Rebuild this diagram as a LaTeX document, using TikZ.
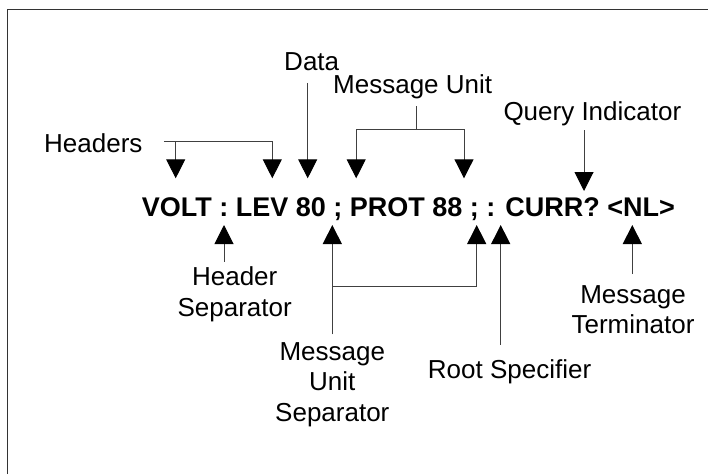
\documentclass[tikz,border=0pt]{standalone}
\usepackage{fontspec}
\setmainfont{Liberation Sans}
\usetikzlibrary{arrows.meta}

\begin{document}
\begin{tikzpicture}[x=1pt,y=-1pt,
	lbl/.style={font=\fontsize{26}{31.5}\selectfont, inner sep=0pt, align=center},
	cmd/.style={font=\fontsize{27}{30}\selectfont\bfseries, inner sep=0pt},
	wire/.style={draw=black!75, line width=1pt},
	arr/.style={wire, -{Triangle[width=19pt,length=19pt,color=black]}}]
	\useasboundingbox (0,0) rectangle (708,474);
	% frame
	\draw[black!80, line width=1pt] (7,474) -- (7,9.3) -- (708,9.3);
	% command line
	\node[cmd, anchor=base west] (cmd) at (141.7,216) {VOLT : LEV 80 ; PROT 88 ; : CURR? <NL>};
	% arrow tips above and below the command
	\coordinate (tVolt) at (175.7,178.3);
	\coordinate (tLev) at (272.3,178.3);
	\coordinate (tData) at (307.7,178.3);
	\coordinate (tProt) at (356.2,178.3);
	\coordinate (tNum) at (464,178.3);
	\coordinate (tQuery) at (584,191);
	\coordinate (bColon) at (224,225);
	\coordinate (bSemiA) at (332.3,225);
	\coordinate (bSemiB) at (476.7,225);
	\coordinate (bRoot) at (500.7,225);
	\coordinate (bNL) at (632.3,225);
	% labels (base of a multi-line label is its last line)
	\node[lbl, anchor=base west] (hdr) at (44,152.7) {Headers};
	\node[lbl, anchor=base] (dat) at (311.7,70) {Data};
	\node[lbl, anchor=base west] (mu) at (333,93.3) {Message Unit};
	\node[lbl, anchor=base west] (qry) at (503.3,120) {Query Indicator};
	\node[lbl, anchor=base] (hsep) at (234.7,316.7) {Header\\Separator};
	\node[lbl, font=\fontsize{26}{30.8}\selectfont, anchor=base] (musep) at (332.3,421.7) {Message\\Unit\\Separator};
	\node[lbl, anchor=base west] (root) at (427.7,378.3) {Root Specifier};
	\node[lbl, font=\fontsize{26}{29.5}\selectfont, anchor=base] (term) at (633,333.3) {Message\\Terminator};
	% headers
	\coordinate (hbar) at ([xshift=21.3pt,yshift=1.5pt]hdr.east);
	\draw[arr] (hbar) -| (tLev);
	\draw[arr] (hbar -| tVolt) -- (tVolt);
	% data
	\draw[arr] (dat.south -| tData) ++(0,12.3) -- (tData);
	% message unit
	\coordinate (mubar) at (416,129.3);
	\draw[wire] (mu.south -| mubar) ++(0,7.2) -- (mubar);
	\draw[arr] (mubar) -| (tProt);
	\draw[arr] (mubar) -| (tNum);
	% query indicator
	\draw[arr] (qry.south -| tQuery) ++(0,4.5) -- (tQuery);
	% header separator
	\draw[arr] (hsep.north -| bColon) ++(0,-4.5) -- (bColon);
	% message unit separator
	\coordinate (msbar) at (332.3,286);
	\draw[arr] (musep.north -| bSemiA) ++(0,-7.7) -- (bSemiA);
	\draw[arr] (msbar) -| (bSemiB);
	% root specifier
	\draw[arr] (root.north -| bRoot) ++(0,-14.3) -- (bRoot);
	% message terminator
	\draw[arr] (term.north -| bNL) ++(0,-11.7) -- (bNL);
\end{tikzpicture}
\end{document}
